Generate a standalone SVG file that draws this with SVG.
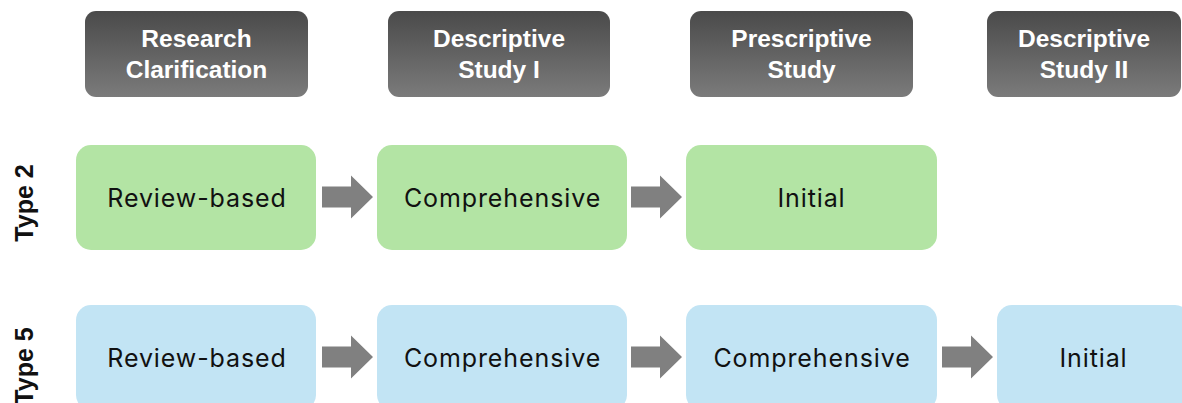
<svg xmlns="http://www.w3.org/2000/svg" width="1182" height="403" viewBox="0 0 1182 403">
  <style>
    .phase rect { fill: url(#phaseFill); }
    .phase text { font-family: "Liberation Sans", Arial, sans-serif; font-weight: bold; font-size: 24.5px; fill: #ffffff; text-anchor: middle; }
    .step text { font-family: Inter, "Noto Sans", sans-serif; font-size: 25px; letter-spacing: 0.9px; fill: #111111; text-anchor: middle; }
    .t2 rect { fill: #b3e4a4; }
    .t5 rect { fill: #c2e4f4; }
    .rowlabel { font-family: "Liberation Sans", Arial, sans-serif; font-weight: bold; font-size: 25px; fill: #111111; text-anchor: middle; }
    .arrow { fill: #808080; }
  </style>
  <defs>
    <linearGradient id="phaseFill" x1="0" y1="0" x2="0" y2="1">
      <stop offset="0" stop-color="#4a4a4a"/>
      <stop offset="1" stop-color="#7b7b7b"/>
    </linearGradient>
    <path id="arr" d="M0,-10.5 H29 V-21.5 L51,0 L29,21.5 V10.5 H0 Z"/>
  </defs>
  <rect width="1182" height="403" fill="#ffffff"/>

  <!-- phase headers -->
  <g id="phase-rc" class="phase">
    <rect x="85" y="11" width="223" height="86" rx="11"/>
    <text x="196.5" y="47">Research</text>
    <text x="196.5" y="78">Clarification</text>
  </g>
  <g id="phase-ds1" class="phase">
    <rect x="388" y="11" width="222" height="86" rx="11"/>
    <text x="499" y="47">Descriptive</text>
    <text x="499" y="78">Study I</text>
  </g>
  <g id="phase-ps" class="phase">
    <rect x="690" y="11" width="223" height="86" rx="11"/>
    <text x="801.5" y="47">Prescriptive</text>
    <text x="801.5" y="78">Study</text>
  </g>
  <g id="phase-ds2" class="phase">
    <rect x="987" y="11" width="194" height="86" rx="11"/>
    <text x="1084" y="47">Descriptive</text>
    <text x="1084" y="78">Study II</text>
  </g>

  <!-- row labels -->
  <text id="label-type2" class="rowlabel" transform="translate(33,203) rotate(-90)">Type 2</text>
  <text id="label-type5" class="rowlabel" transform="translate(33,366) rotate(-90)">Type 5</text>

  <!-- Type 2 row -->
  <g id="t2-review" class="step t2">
    <rect x="76" y="145" width="240" height="105" rx="15"/>
    <text x="197" y="207">Review-based</text>
  </g>
  <g id="t2-comprehensive" class="step t2">
    <rect x="377" y="145" width="250" height="105" rx="15"/>
    <text x="502.5" y="207">Comprehensive</text>
  </g>
  <g id="t2-initial" class="step t2">
    <rect x="686" y="145" width="251" height="105" rx="15"/>
    <text x="811.5" y="207">Initial</text>
  </g>

  <!-- Type 5 row -->
  <g id="t5-review" class="step t5">
    <rect x="76" y="305" width="240" height="105" rx="15"/>
    <text x="197" y="367">Review-based</text>
  </g>
  <g id="t5-comprehensive-ds1" class="step t5">
    <rect x="377" y="305" width="250" height="105" rx="15"/>
    <text x="502.5" y="367">Comprehensive</text>
  </g>
  <g id="t5-comprehensive-ps" class="step t5">
    <rect x="686" y="305" width="251" height="105" rx="15"/>
    <text x="812" y="367">Comprehensive</text>
  </g>
  <g id="t5-initial" class="step t5">
    <rect x="997" y="305" width="193" height="105" rx="15"/>
    <text x="1093.5" y="367">Initial</text>
  </g>

  <!-- connectors -->
  <g id="connectors" class="arrow">
    <use href="#arr" x="322" y="197"/>
    <use href="#arr" x="631" y="197"/>
    <use href="#arr" x="322" y="357"/>
    <use href="#arr" x="631" y="357"/>
    <use href="#arr" x="942" y="357"/>
  </g>
</svg>
